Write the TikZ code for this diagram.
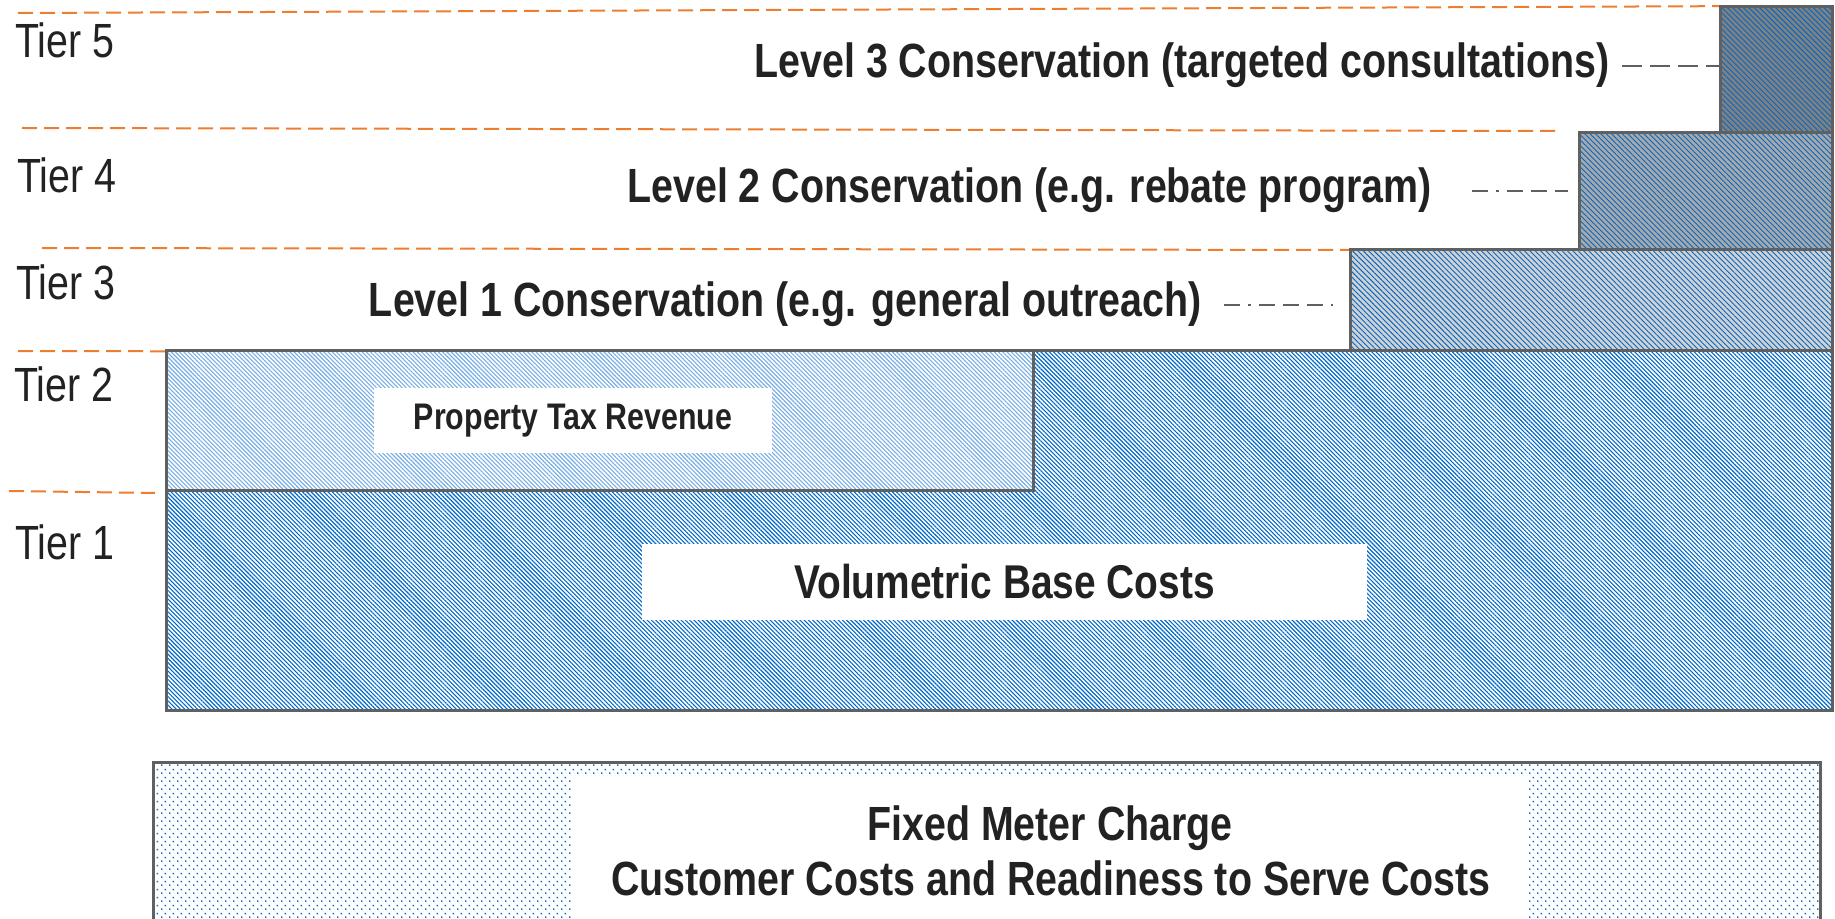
\documentclass[tikz,border=0pt]{standalone}
\usepackage{fontspec}
\usetikzlibrary{patterns.meta}
\newfontfamily\narrowsans[FakeStretch=0.82]{Liberation Sans}
\definecolor{tierorange}{HTML}{ED7D31}
\definecolor{hatchblue}{HTML}{0068C8}
\definecolor{lighthatch}{HTML}{78AEE4}
\definecolor{edgegray}{HTML}{606060}
\definecolor{textgray}{HTML}{222222}
\tikzdeclarepattern{
  name=meterdots,
  type=uncolored,
  bottom left={(0pt,0pt)},
  top right={(4pt,4pt)},
  tile size={(4pt,4pt)},
  code={
    \pgfpathrectangle{\pgfpoint{0.6pt}{0.6pt}}{\pgfpoint{0.8pt}{0.8pt}}
    \pgfpathrectangle{\pgfpoint{2.6pt}{2.6pt}}{\pgfpoint{0.8pt}{0.8pt}}
    \pgfusepath{fill}
  }
}
\tikzset{
  tierline/.style={color=tierorange, line width=1pt, dash pattern=on 7.5pt off 3.5pt},
  costbox/.style={draw=edgegray, line width=1.5pt},
  hatched/.style={pattern={Lines[angle=-45,distance=1.5pt,line width=0.55pt]}, pattern color=#1},
  stephatch/.style={pattern={Lines[angle=-45,distance=1.9pt,line width=0.45pt]}, pattern color=hatchblue, preaction={fill=#1}},
  tierlabel/.style={text=textgray, inner sep=0pt, font=\narrowsans\fontsize{24}{28}\selectfont},
  levellabel/.style={text=textgray, inner sep=0pt, font=\narrowsans\bfseries\fontsize{24}{28}\selectfont},
  whitelabel/.style={fill=white, text=textgray, inner sep=0pt, font=\narrowsans\bfseries\fontsize{#1}{28}\selectfont},
  conn/.style={color=edgegray, line width=1pt}
}
\begin{document}
\begin{tikzpicture}[x=0.5pt, y=-0.5pt]
    \useasboundingbox (0,0) rectangle (1835,919);
    \clip (0,0) rectangle (1835,919);

    % tier boundaries
    \foreach \xa/\ya/\xb/\yb in {18/13/1762/6, 22/128/1555/131, 42/248/1350/250, 18/351/1020/353, 9/491/155/493}
    {
        \draw[tierline] (\xa,\ya) -- (\xb,\yb);
    }
    \foreach \n/\x/\y in {5/15/58, 4/17/193, 3/16/300, 2/14/401, 1/15/559}
    {
        \node[tierlabel, anchor=base west] (tier\n) at (\x,\y) {Tier \n};
    }

    % volumetric blocks
    \draw[costbox, hatched=hatchblue] (166,351) rectangle (1832,710);
    \fill[white] (166,351) rectangle (1033,490);
    \draw[costbox, hatched=lighthatch] (166,351) rectangle (1033,490);
    \node[whitelabel=18.5, minimum width=199pt, minimum height=32.5pt] (taxlabel) at (573,420.5) {Property Tax Revenue};
    \node[whitelabel=23.7, minimum width=362.5pt, minimum height=38pt] (baselabel) at (1004.5,582) {Volumetric Base Costs};

    % conservation steps
    \draw[costbox, stephatch=gray!36] (1350,250) rectangle (1832,351);
    \draw[costbox, stephatch=gray!68] (1579,133) rectangle (1832,250);
    \draw[costbox, stephatch=gray] (1720,7) rectangle (1832,133);
    \coordinate (stepone) at (1350,250);
    \coordinate (steptwo) at (1579,133);
    \coordinate (stepthree) at (1720,7);

    \node[levellabel, anchor=base east] (lvlone) at (1202,317) {Level 1 Conservation (e.g. general outreach)};
    \node[levellabel, anchor=base east] (lvltwo) at (1432,203) {Level 2 Conservation (e.g. rebate program)};
    \node[levellabel, anchor=base east] (lvlthree) at (1610,78) {Level 3 Conservation (targeted consultations)};

    \draw[conn, dash pattern=on 8pt off 4pt on 1.5pt off 4pt on 8pt off 4pt on 8pt off 4pt on 8pt off 4pt, shorten >=8.5pt] ([xshift=11pt]lvlone.east) -- (lvlone.east -| stepone);
    \draw[conn, dash pattern=on 8pt off 4pt on 1.5pt off 4pt on 8pt off 4pt on 8pt off 4pt on 8pt off 4pt, shorten >=5.5pt] ([xshift=20pt]lvltwo.east) -- (lvltwo.east -| steptwo);
    \draw[conn, dash pattern=on 10pt off 4pt] ([xshift=6pt]lvlthree.east) -- (lvlthree.east -| stepthree);

    % fixed charge
    \draw[costbox, pattern=meterdots, pattern color=hatchblue] (153,762) rectangle (1820,960);
    \fill[white] (572,776) rectangle (1529,960);
    \node[whitelabel=24, anchor=base] (meterone) at (1050,840) {Fixed Meter Charge};
    \node[whitelabel=24, anchor=base] (metertwo) at (1051,895) {Customer Costs and Readiness to Serve Costs};
\end{tikzpicture}
\end{document}
